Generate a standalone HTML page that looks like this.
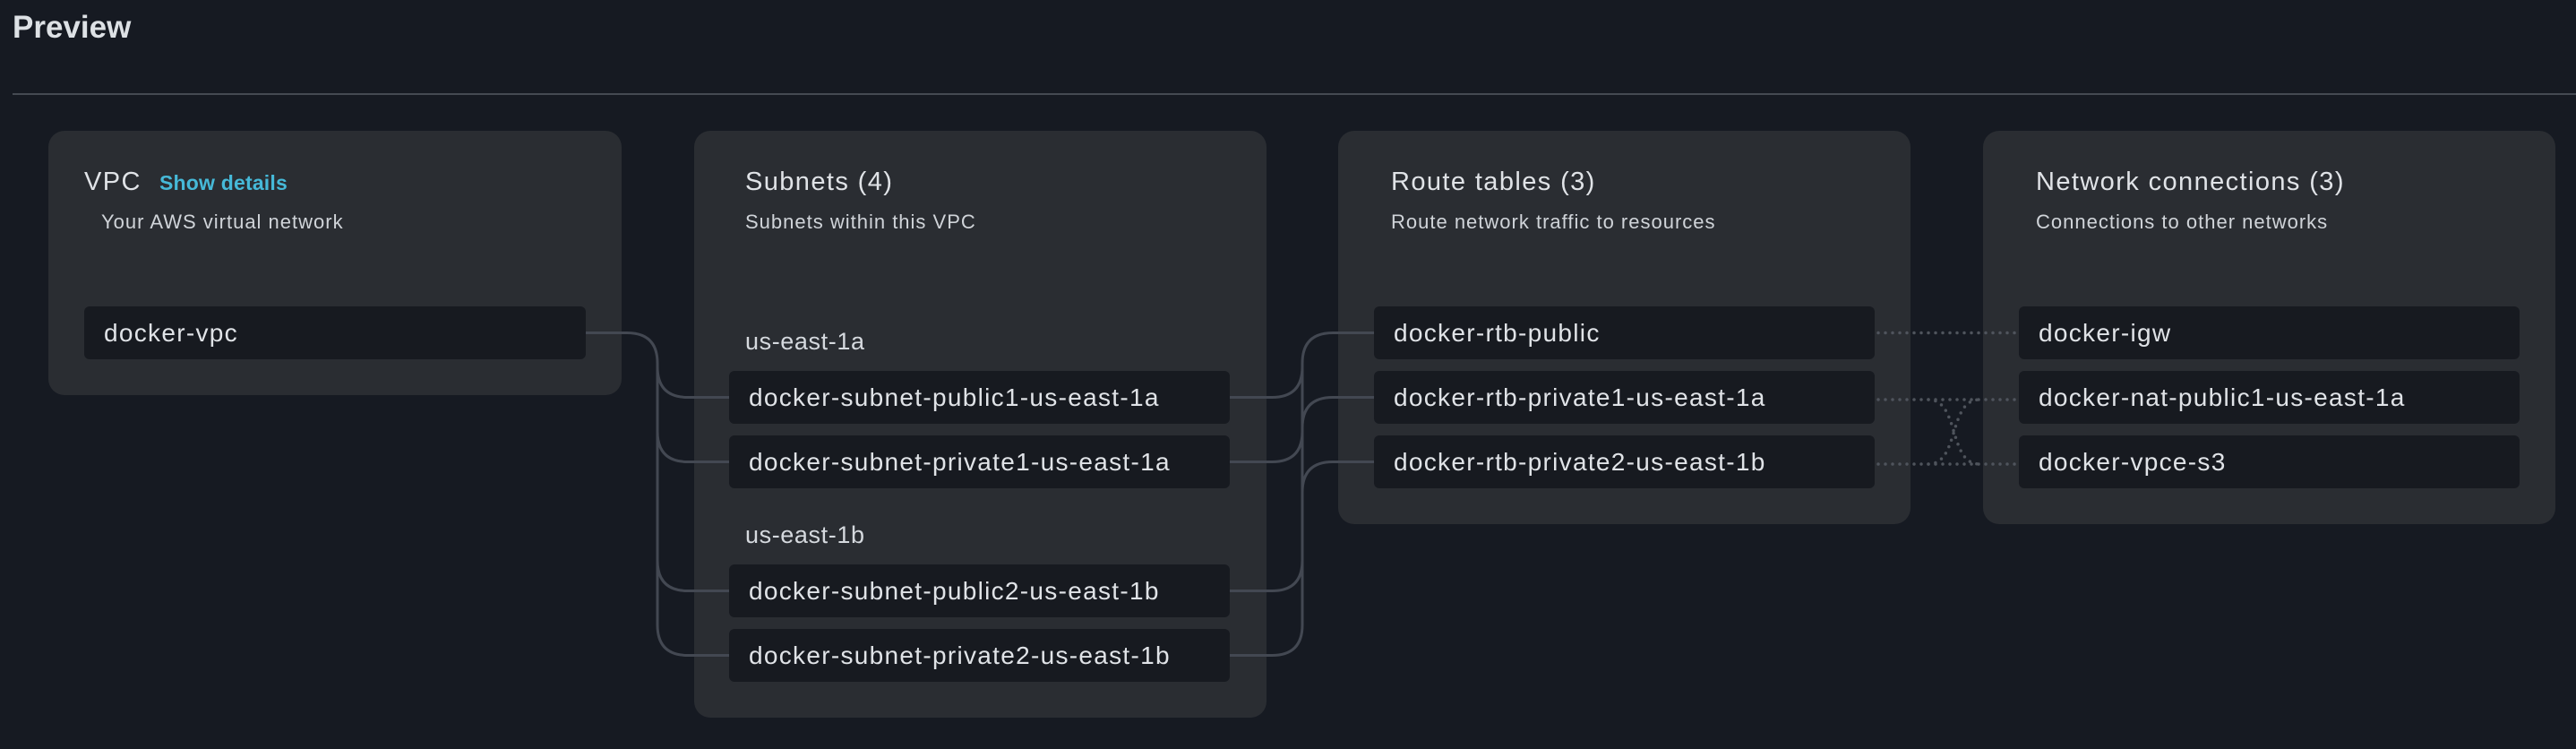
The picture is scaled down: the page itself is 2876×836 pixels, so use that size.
<!DOCTYPE html>
<html><head><meta charset="utf-8"><style>
*{margin:0;padding:0;box-sizing:border-box}
body{width:2876px;height:836px;background:#161a22;font-family:"Liberation Sans",sans-serif;color:#d5d9de;position:relative;overflow:hidden}
.abs{position:absolute}
.card{position:absolute;background:#2a2d32;border-radius:18px}
.node{position:absolute;background:#171a20;border-radius:6px;height:59px;font-size:28px;letter-spacing:1.3px;line-height:59px;padding-left:22px;color:#e0e3e7;white-space:nowrap}
.title{position:absolute;font-size:29px;letter-spacing:1.4px;color:#e0e3e7;white-space:nowrap}
.sub{position:absolute;font-size:22px;letter-spacing:1px;color:#d0d4d9;white-space:nowrap}
.lbl{position:absolute;font-size:27px;letter-spacing:0.6px;color:#d5d9de;white-space:nowrap}
</style></head><body>
<div class="abs" style="left:14px;top:11px;font-size:35px;font-weight:bold;color:#dde1e5">Preview</div>
<div class="abs" style="left:14px;top:104px;width:2862px;height:2px;background:#454a52"></div>

<div class="card" style="left:54px;top:146px;width:640px;height:295px"></div>
<div class="card" style="left:775px;top:146px;width:639px;height:655px"></div>
<div class="card" style="left:1494px;top:146px;width:639px;height:439px"></div>
<div class="card" style="left:2214px;top:146px;width:639px;height:439px"></div>

<svg class="abs" style="left:0;top:0" width="2876" height="836">
<g fill="none" stroke="#434852" stroke-width="3">
<path d="M654 371.5H700Q734 371.5 734 405.5V698"/>
<path d="M814 443.5H768Q734 443.5 734 409.5"/>
<path d="M814 515.5H768Q734 515.5 734 481.5"/>
<path d="M814 659.5H768Q734 659.5 734 625.5"/>
<path d="M814 731.5H768Q734 731.5 734 697.5"/>
<path d="M1534 371.5H1488Q1454 371.5 1454 405.5V698"/>
<path d="M1534 443.5H1488Q1454 443.5 1454 477.5"/>
<path d="M1534 515.5H1488Q1454 515.5 1454 549.5"/>
<path d="M1373 443.5H1420Q1454 443.5 1454 409.5"/>
<path d="M1373 515.5H1420Q1454 515.5 1454 481.5"/>
<path d="M1373 659.5H1420Q1454 659.5 1454 625.5"/>
<path d="M1373 731.5H1420Q1454 731.5 1454 697.5"/>
</g>
<g fill="none" stroke="#4f545c" stroke-width="3.5" stroke-linecap="round" stroke-dasharray="0 8">
<path d="M2097 371.5H2252"/>
<path d="M2097 446H2252"/>
<path d="M2097 518H2252"/>
<path d="M2153 446C2188 446 2175 518 2210 518"/>
<path d="M2153 518C2188 518 2175 446 2210 446"/>
</g>
</svg>

<div class="title" style="left:94px;top:187px">VPC</div>
<div class="abs" style="left:178px;top:191px;font-size:23px;letter-spacing:0.2px;font-weight:bold;color:#46b9d8">Show details</div>
<div class="sub" style="left:113px;top:235px">Your AWS virtual network</div>
<div class="node" style="left:94px;top:342px;width:560px">docker-vpc</div>

<div class="title" style="left:832px;top:187px">Subnets (4)</div>
<div class="sub" style="left:832px;top:235px">Subnets within this VPC</div>
<div class="lbl" style="left:832px;top:366px">us-east-1a</div>
<div class="node" style="left:814px;top:414px;width:559px">docker-subnet-public1-us-east-1a</div>
<div class="node" style="left:814px;top:486px;width:559px">docker-subnet-private1-us-east-1a</div>
<div class="lbl" style="left:832px;top:582px">us-east-1b</div>
<div class="node" style="left:814px;top:630px;width:559px">docker-subnet-public2-us-east-1b</div>
<div class="node" style="left:814px;top:702px;width:559px">docker-subnet-private2-us-east-1b</div>

<div class="title" style="left:1553px;top:187px">Route tables (3)</div>
<div class="sub" style="left:1553px;top:235px">Route network traffic to resources</div>
<div class="node" style="left:1534px;top:342px;width:559px">docker-rtb-public</div>
<div class="node" style="left:1534px;top:414px;width:559px">docker-rtb-private1-us-east-1a</div>
<div class="node" style="left:1534px;top:486px;width:559px">docker-rtb-private2-us-east-1b</div>

<div class="title" style="left:2273px;top:187px">Network connections (3)</div>
<div class="sub" style="left:2273px;top:235px">Connections to other networks</div>
<div class="node" style="left:2254px;top:342px;width:559px">docker-igw</div>
<div class="node" style="left:2254px;top:414px;width:559px">docker-nat-public1-us-east-1a</div>
<div class="node" style="left:2254px;top:486px;width:559px">docker-vpce-s3</div>
</body></html>
